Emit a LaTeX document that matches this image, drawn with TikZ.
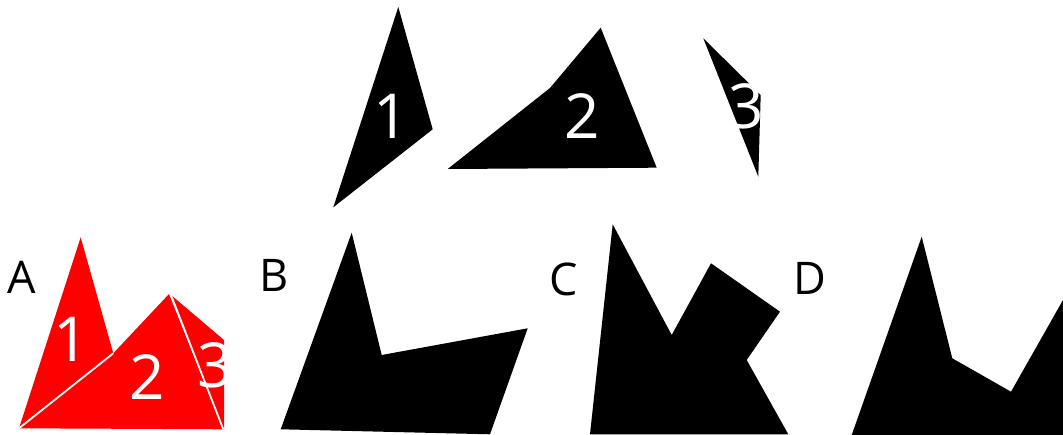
\documentclass[tikz,border=0pt]{standalone}
\usepackage{fontspec}
\setmainfont{Open Sans}
\begin{document}
\begin{tikzpicture}[x=1pt,y=-1pt,
  piece/.style={fill=black,draw=none},
  redpiece/.style={fill=red,draw=none},
  sep/.style={draw=white,line width=1.8pt},
  digit/.style={text=white,font=\fontsize{62}{62}\selectfont,inner sep=0pt},
  letter/.style={text=black,font=\fontsize{45}{45}\selectfont,inner sep=0pt}]
\useasboundingbox (0,0) rectangle (1063,435);
% top pieces
\fill[piece] (398.3,7) -- (432.7,129.3) -- (333.3,207.3) -- cycle;
\node[digit] (t1) at (391,116) {1};
\fill[piece] (447.7,169) -- (550,88) -- (600.7,27.7) -- (656.7,167.7) -- cycle;
\node[digit] (t2) at (582,116) {2};
\fill[piece] (703.3,38.3) -- (760.7,95) -- (758.3,176.7) -- cycle;
\node[digit] (t3) at (746.7,106) {3};
% A (red)
\fill[redpiece] (80.7,237.3) -- (113.3,353.3) -- (19,428.3) -- cycle;
\fill[redpiece] (19,428.3) -- (113.3,353.3) -- (169,294) -- (223.3,429.3) -- cycle;
\fill[redpiece] (171,295) -- (224,340) -- (224,429.3) -- (223.3,429.3) -- cycle;
\coordinate (s1a) at (19,428.3);
\coordinate (s1b) at (113.3,353.3);
\coordinate (s2a) at (171,295);
\coordinate (s2b) at (223.3,429.3);
\draw[sep] (s1a) -- (s1b);
\draw[sep] (s2a) -- (s2b);
\node[digit] (a1) at (71,339) {1};
\node[digit] (a2) at (147,377) {2};
\node[digit] (a3) at (215,365) {3};
\node[letter] (lA) at (22,277.5) {A};
% B
\fill[piece] (351.7,232.7) -- (381.7,355) -- (527.7,328.3) -- (490,434.3) -- (280.7,429.3) -- cycle;
\node[letter] (lB) at (274,275.5) {B};
% C
\fill[piece] (612.7,224.3) -- (671.7,335) -- (711,263.3) -- (780,311.7) -- (746.7,360) -- (788.3,434.3) -- (590,434.3) -- cycle;
\node[letter] (lC) at (564,279) {C};
% D
\fill[piece] (921.7,236.7) -- (952.3,358.3) -- (1011,391.7) -- (1063,300) -- (1063,435) -- (851.7,435) -- cycle;
\node[letter] (lD) at (810,278) {D};
\end{tikzpicture}
\end{document}
